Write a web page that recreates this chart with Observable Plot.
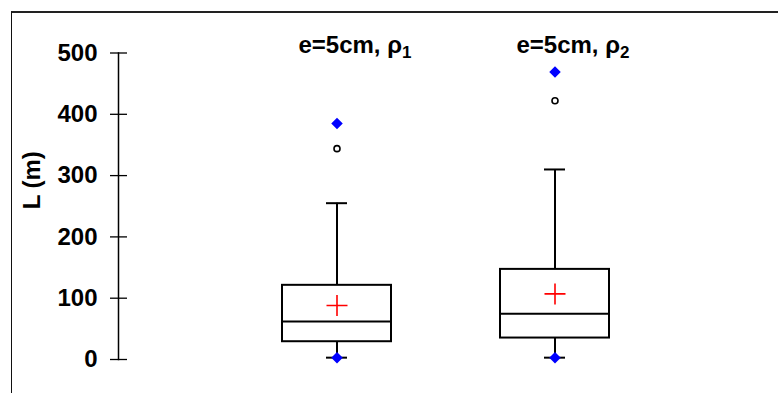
<!DOCTYPE html>
<html>
<head>
<meta charset="utf-8">
<script src="https://cdn.jsdelivr.net/npm/d3@7"></script>
<script src="https://cdn.jsdelivr.net/npm/@observablehq/plot@0.6"></script>
<style>
  html, body { margin: 0; padding: 0; background: #fff; }
  #wrap { position: relative; width: 778px; height: 393px; overflow: hidden; }
  #border { position: absolute; left: 11px; top: 11px; right: -5px; bottom: -5px;
            border-top: 2px solid #222; border-left: 1.5px solid #111; pointer-events: none; }
  svg { font-family: "Liberation Sans", Arial, sans-serif; }
</style>
</head>
<body>
<div id="wrap"><div id="border"></div></div>
<script>
// ---- data ----
const categories = ["e=5cm, ρ₁", "e=5cm, ρ₂"];
const q1 = [29, 35];
const median = [62, 74.5];
const q3 = [121, 147];
const whiskerLow = [3, 3];
const whiskerHigh = [255, 310];
const mean = [88, 107];
const minimum = [3, 3];
const maximum = [385, 469];
const outliers = [344, 422];
const yTicks = [0, 100, 200, 300, 400, 500];

const rows = categories.map((c, i) => ({
  cat: c, q1: q1[i], median: median[i], q3: q3[i],
  lo: whiskerLow[i], hi: whiskerHigh[i], mean: mean[i],
  min: minimum[i], max: maximum[i], out: outliers[i]
}));

const thinPlus = {
  draw(context, size) {
    const r = Math.sqrt(size / Math.PI);
    context.moveTo(-r, 0); context.lineTo(r, 0);
    context.moveTo(0, -r); context.lineTo(0, r);
  }
};

const chart = Plot.plot({
  width: 778,
  height: 393,
  marginLeft: 118,
  marginRight: 0,
  marginTop: 52.5,
  marginBottom: 34,
  style: { fontFamily: "'Liberation Sans', Arial, sans-serif", background: "transparent" },
  x: { type: "band", domain: categories, range: [173, 718], padding: 0.5, axis: null },
  y: { domain: [0, 500], ticks: yTicks, label: null },
  marks: [
    Plot.frame({ anchor: "left", stroke: "#000", strokeWidth: 1.5 }),
    Plot.axisY(yTicks, { tickSize: 17, dx: 9, text: null, stroke: "#000", strokeWidth: 1.3, label: null }),
    Plot.axisY(yTicks, { tickSize: 0, tickPadding: 21, fontSize: 24, fontWeight: "bold", fill: "#000", label: null }),
    Plot.text(["L (m)"], { frameAnchor: "left", dx: -86, dy: -26, rotate: -90, fontSize: 24, fontWeight: "bold", fill: "#000", text: d => d, textAnchor: "middle" }),
    // whiskers
    Plot.ruleX(rows, { x: "cat", y1: "q3", y2: "hi", stroke: "#000", strokeWidth: 2 }),
    Plot.ruleX(rows, { x: "cat", y1: "lo", y2: "q1", stroke: "#000", strokeWidth: 2 }),
    Plot.tickY(rows, { x: "cat", y: "hi", insetLeft: 44, insetRight: 44, stroke: "#000", strokeWidth: 2 }),
    Plot.tickY(rows, { x: "cat", y: "lo", insetLeft: 44, insetRight: 44, stroke: "#000", strokeWidth: 2 }),
    // boxes
    Plot.rectY(rows, { x: "cat", y1: "q1", y2: "q3", fill: "#fff", stroke: "#000", strokeWidth: 2 }),
    Plot.tickY(rows, { x: "cat", y: "median", stroke: "#000", strokeWidth: 2 }),
    // mean
    Plot.dot(rows, { x: "cat", y: "mean", symbol: thinPlus, r: 10.5, stroke: "red", strokeWidth: 1.6, fill: "none" }),
    // outliers
    Plot.dot(rows, { x: "cat", y: "out", r: 3, stroke: "#000", strokeWidth: 1.6, fill: "#fff" }),
    // min / max
    Plot.dot(rows, { x: "cat", y: "max", symbol: "diamond2", r: 5.2, fill: "blue", stroke: "none" }),
    Plot.dot(rows, { x: "cat", y: "min", symbol: "diamond2", r: 5.2, fill: "blue", stroke: "none" }),
    // titles
    Plot.text(categories, { x: d => d, text: d => d, frameAnchor: "top", dx: 18, dy: 0, lineAnchor: "bottom", fontSize: 24, fontWeight: "bold", fill: "#000" })
  ]
});
document.getElementById("wrap").prepend(chart);
chart.style.position = "absolute";
chart.style.left = "0";
chart.style.top = "0";

// render the subscripts of the titles as real subscript tspans
const subMap = { "₁": "1", "₂": "2" };
chart.querySelectorAll("text").forEach(t => {
  const s = t.textContent;
  const m = s.match(/^(.*)([₁₂])$/);
  if (!m) return;
  t.textContent = "";
  const ns = "http://www.w3.org/2000/svg";
  const a = document.createElementNS(ns, "tspan");
  a.textContent = m[1];
  const b = document.createElementNS(ns, "tspan");
  b.textContent = subMap[m[2]];
  b.setAttribute("font-size", "17");
  b.setAttribute("dy", "5");
  t.appendChild(a); t.appendChild(b);
});
</script>
</body>
</html>
